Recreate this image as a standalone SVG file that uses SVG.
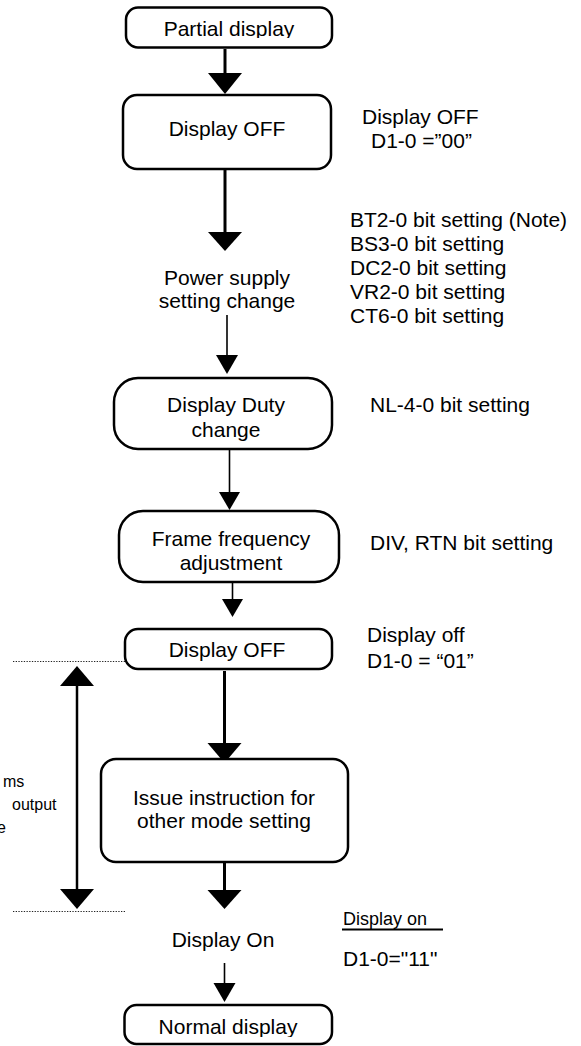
<svg xmlns="http://www.w3.org/2000/svg" width="581" height="1046" viewBox="0 0 581 1046">
<defs>
<style>
.box{fill:#fff;stroke:#000;stroke-width:2.5}
.t{font-family:"Liberation Sans",Arial,sans-serif;font-size:21px;fill:#000}
.s{font-size:16px}
.m{font-size:18px}
.c{text-anchor:middle}
.thick{stroke:#000;stroke-width:3;fill:none}
.thin{stroke:#000;stroke-width:1.6;fill:none}
.head{fill:#000;stroke:none}
.dot{stroke:#222;stroke-width:1;stroke-dasharray:1.3 1.4;fill:none}
</style>
<clipPath id="clipTop"><rect x="0" y="0" width="581" height="38"/></clipPath>
<clipPath id="clipBot"><rect x="0" y="0" width="581" height="1037"/></clipPath>
</defs>
<rect width="581" height="1046" fill="#fff"/>

<g id="connectors">
  <line class="thick" x1="225" y1="49" x2="225" y2="74"/>
  <polygon class="head" points="208,73 242,73 225,94"/>
  <line class="thick" x1="225" y1="169" x2="225" y2="233"/>
  <polygon class="head" points="208,232 242,232 225,251"/>
  <line class="thin" x1="227" y1="315" x2="227" y2="356"/>
  <polygon class="head" points="216,355 238,355 227,374"/>
  <line class="thin" x1="229.5" y1="449" x2="229.5" y2="493"/>
  <polygon class="head" points="219,492 240,492 229.5,510"/>
  <line class="thin" x1="232.5" y1="557" x2="232.5" y2="600"/>
  <polygon class="head" points="222,599 243,599 232.5,617"/>
  <line class="thick" x1="224.5" y1="671" x2="224.5" y2="744"/>
  <polygon class="head" points="207.5,743 241.5,743 224.5,763"/>
  <line class="thick" x1="224.5" y1="862" x2="224.5" y2="891"/>
  <polygon class="head" points="207.5,890 241.5,890 224.5,909"/>
  <line class="thin" x1="224.5" y1="963" x2="224.5" y2="984"/>
  <polygon class="head" points="213.5,983 235.5,983 224.5,1002"/>
  <line class="dot" x1="13" y1="661.5" x2="125" y2="661.5"/>
  <line class="dot" x1="13" y1="911.5" x2="126" y2="911.5"/>
  <line class="thick" x1="77" y1="684" x2="77" y2="891" style="stroke-width:2.5"/>
  <polygon class="head" points="60,686 94,686 77,666"/>
  <polygon class="head" points="60,889 94,889 77,909"/>
</g>

<g id="n1">
  <rect class="box" x="126" y="7.5" width="206" height="40" rx="12"/>
  <text class="t c" x="229" y="36" clip-path="url(#clipTop)">Partial display</text>
</g>
<g id="n2">
  <rect class="box" x="123" y="95" width="208" height="74" rx="14"/>
  <text class="t c" x="227" y="136">Display OFF</text>
</g>
<g id="n3">
  <text class="t c" x="227" y="285">Power supply</text>
  <text class="t c" x="227" y="308">setting change</text>
</g>
<g id="n4">
  <rect class="box" x="114" y="378" width="218" height="71" rx="24"/>
  <text class="t c" x="226" y="412">Display Duty</text>
  <text class="t c" x="226" y="437">change</text>
</g>
<g id="n5">
  <rect class="box" x="119" y="511" width="220" height="71" rx="24"/>
  <text class="t c" x="231" y="546">Frame frequency</text>
  <text class="t c" x="231" y="570">adjustment</text>
</g>
<g id="n6">
  <rect class="box" x="125" y="629" width="207" height="40" rx="13"/>
  <text class="t c" x="227" y="657">Display OFF</text>
</g>
<g id="n7">
  <rect class="box" x="101" y="759" width="247" height="103" rx="15"/>
  <text class="t c" x="224" y="805">Issue instruction for</text>
  <text class="t c" x="224" y="828">other mode setting</text>
</g>
<g id="n8">
  <text class="t c" x="223" y="947">Display On</text>
</g>
<g id="n9">
  <rect class="box" x="124.5" y="1005" width="207.5" height="39" rx="12"/>
  <text class="t c" x="228" y="1034" clip-path="url(#clipBot)">Normal display</text>
</g>

<g id="labels">
  <text class="t" x="362" y="124">Display OFF</text>
  <text class="t" x="371" y="148">D1-0 =”00”</text>
  <text class="t" x="350" y="227">BT2-0 bit setting (Note)</text>
  <text class="t" x="350" y="251">BS3-0 bit setting</text>
  <text class="t" x="350" y="275">DC2-0 bit setting</text>
  <text class="t" x="350" y="299">VR2-0 bit setting</text>
  <text class="t" x="350" y="323">CT6-0 bit setting</text>
  <text class="t" x="370" y="412">NL-4-0 bit setting</text>
  <text class="t" x="370" y="550">DIV, RTN bit setting</text>
  <text class="t" x="367" y="642">Display off</text>
  <text class="t" x="367" y="668">D1-0 = “01”</text>
  <text class="t m" x="343" y="925">Display on</text>
  <line x1="342" y1="929.5" x2="443" y2="929.5" stroke="#000" stroke-width="2"/>
  <text class="t" x="343" y="966">D1-0="11"</text>
  <text class="t s" x="3" y="787">ms</text>
  <text class="t s" x="12" y="810">output</text>
  <text class="t s" x="-3" y="833">e</text>
</g>
</svg>
